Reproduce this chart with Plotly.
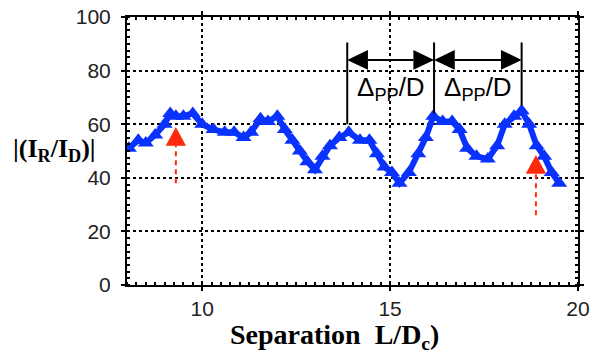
import plotly.graph_objects as go

# Measured ratio versus separation
separation = [8.05, 8.3, 8.5, 8.75, 9.0, 9.15, 9.3, 9.5, 9.75, 10.0, 10.3, 10.6,
              10.85, 11.1, 11.3, 11.55, 11.75, 12.0, 12.2, 12.4, 12.6, 12.8, 13.0,
              13.2, 13.4, 13.65, 13.9, 14.2, 14.45, 14.65, 14.85, 15.05, 15.25,
              15.5, 15.75, 15.95, 16.15, 16.4, 16.65, 16.85, 17.05, 17.3, 17.6,
              17.85, 18.05, 18.3, 18.5, 18.7, 18.9, 19.1, 19.3, 19.5]
ratio = [51, 54, 53, 56, 60, 64, 63, 63, 64, 60, 58, 57,
         57, 55, 57, 62, 61, 63, 58, 54, 50, 46, 43,
         48, 52, 55, 57, 54, 54, 49, 44, 42, 38,
         42, 49, 55, 63, 61, 61, 58, 51, 48, 47,
         52, 60, 63, 65, 60, 52, 48, 42, 38]

x_ticks = [10, 15, 20]
y_ticks = [0, 20, 40, 60, 80, 100]

# Period markers (peak positions) and highlighted points
period_x = [13.86, 16.17, 18.5]
period_bottom = [60, 64, 67]
period_label = "Δ<sub>PP</sub>/D"
highlight_x = [9.3, 18.88]
highlight_tip = [59, 48.5]
highlight_tail = [38, 26]

BLUE = "#0a32ff"
RED = "#ff2a0a"

fig = go.Figure()
fig.add_trace(go.Scatter(
    x=separation, y=ratio, mode="lines+markers",
    line=dict(color=BLUE, width=6),
    marker=dict(symbol="triangle-up", size=14, color=BLUE, line=dict(width=0)),
    showlegend=False, hoverinfo="skip",
))

shapes = []
# vertical period bars
for px, pb in zip(period_x, period_bottom):
    shapes.append(dict(type="line", xref="x", yref="y", x0=px, x1=px, y0=pb, y1=90.5,
                       line=dict(color="black", width=2)))
# double-headed arrows between bars
arrow_y = 84
head_len = 0.55
head_h = 3.7
for a, b in zip(period_x[:-1], period_x[1:]):
    shapes.append(dict(type="line", xref="x", yref="y", x0=a + head_len, x1=b - head_len,
                       y0=arrow_y, y1=arrow_y, line=dict(color="black", width=2)))
    shapes.append(dict(type="path", xref="x", yref="y",
                       path=f"M {a},{arrow_y} L {a + head_len},{arrow_y + head_h} L {a + head_len},{arrow_y - head_h} Z",
                       fillcolor="black", line=dict(width=0)))
    shapes.append(dict(type="path", xref="x", yref="y",
                       path=f"M {b},{arrow_y} L {b - head_len},{arrow_y + head_h} L {b - head_len},{arrow_y - head_h} Z",
                       fillcolor="black", line=dict(width=0)))

# red dashed pointer arrows
for hx, tip, tail in zip(highlight_x, highlight_tip, highlight_tail):
    base = tip - 7
    shapes.append(dict(type="line", xref="x", yref="y", x0=hx, x1=hx, y0=tail, y1=base,
                       line=dict(color=RED, width=2, dash="5px,4px")))
    shapes.append(dict(type="path", xref="x", yref="y",
                       path=f"M {hx},{tip} L {hx - 0.27},{base} L {hx + 0.27},{base} Z",
                       fillcolor=RED, line=dict(width=0)))

annotations = []
for a, b in zip(period_x[:-1], period_x[1:]):
    annotations.append(dict(x=(a + b) / 2, y=73.5, xref="x", yref="y", text=period_label,
                            xanchor="center", yanchor="middle",
                            showarrow=False, font=dict(family="Liberation Sans", size=26, color="black")))

annotations.append(dict(x=-0.16, y=0.505, xref="paper", yref="paper",
                        xanchor="center", yanchor="middle",
                        text="<b>|(I<sub>R</sub>/I<sub>D</sub>)|</b>", showarrow=False,
                        font=dict(family="Liberation Serif", size=26, color="black")))
annotations.append(dict(x=0.461, y=-0.193, xref="paper", yref="paper",
                        xanchor="center", yanchor="middle",
                        text="<b>Separation  L/D<sub>c</sub>)</b>", showarrow=False,
                        font=dict(family="Liberation Serif", size=28, color="black")))

axis_common = dict(
    showline=True, linecolor="black", linewidth=2, mirror="allticks",
    ticks="outside", ticklen=4, tickwidth=2, tickcolor="black",
    showgrid=True, gridcolor="black", gridwidth=2, griddash="3px,3px",
    zeroline=False, automargin=False,
    tickfont=dict(family="Liberation Sans", size=21, color="#222"),
)

fig.update_xaxes(range=[8, 20], tickvals=x_ticks, ticklabelstandoff=0,
                 minor=dict(ticks="inside", dtick=0.25, ticklen=3, tickcolor="black", tickwidth=1.5, showgrid=False),
                 **axis_common)
fig.update_yaxes(range=[0, 100], tickvals=y_ticks, ticklabelstandoff=6,
                 minor=dict(ticks="inside", dtick=2.5, ticklen=3, tickcolor="black", tickwidth=1.5, showgrid=False),
                 **axis_common)

fig.update_layout(
    width=592, height=354,
    margin=dict(l=127, r=14, t=17, b=69),
    paper_bgcolor="white", plot_bgcolor="white",
    shapes=shapes, annotations=annotations,
)

fig.write_html("out.html")
